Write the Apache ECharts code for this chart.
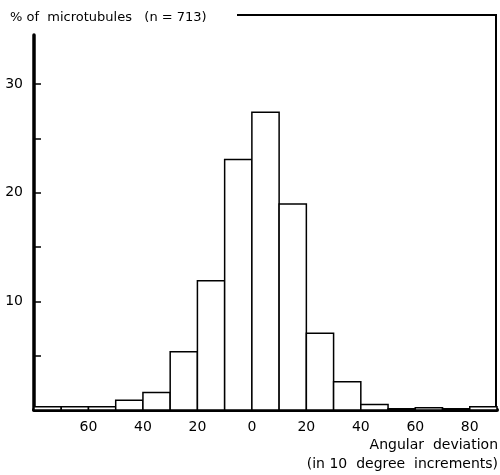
<!DOCTYPE html>
<html>
<head>
<meta charset="utf-8">
<script src="https://cdn.jsdelivr.net/npm/echarts@6/dist/echarts.min.js"></script>
<style>
  html, body { margin: 0; padding: 0; background: #fff; }
  #chart { width: 500px; height: 475px; }
</style>
</head>
<body>
<div id="chart"></div>
<script>
// bins of 10 degrees, start of each bin
var binStart = [-80, -70, -60, -50, -40, -30, -20, -10, 0, 10, 20, 30, 40, 50, 60, 70, 80];
// % of microtubules in each bin
var pct = [0.3, 0.3, 0.3, 0.9, 1.6, 5.35, 11.9, 23.05, 27.4, 18.95, 7.05, 2.6, 0.5, 0.1, 0.2, 0.1, 0.3];
var xLabels = [-60, -40, -20, 0, 20, 40, 60, 80];
var yTicks = [5, 10, 15, 20, 25, 30];
var yLabels = [10, 20, 30];

var binWidth = 10;
var data = [];
for (var i = 0; i < binStart.length; i++) {
    data.push([binStart[i], binStart[i] + binWidth, pct[i]]);
}

var font = 'DejaVu Sans';
var chart = echarts.init(document.getElementById('chart'));
var option = {
    backgroundColor: '#fff',
    animation: false,
    title: {
        text: '% of  microtubules   (n = 713)',
        left: 5,
        top: 6,
        textStyle: { fontFamily: font, fontSize: 13, fontWeight: 'normal', color: '#000' }
    },
    grid: { left: 34, right: 3, top: 35, bottom: 65 },
    xAxis: {
        type: 'value',
        min: -80,
        max: 90,
        interval: 20,
        splitLine: { show: false },
        axisTick: { show: false },
        axisLine: { onZero: false, lineStyle: { color: '#000', width: 4 } },
        axisLabel: {
            customValues: xLabels,
            margin: 10,
            color: '#000',
            fontFamily: font,
            fontSize: 14,
            formatter: function (v) { return Math.abs(v); }
        }
    },
    yAxis: {
        type: 'value',
        min: 0,
        max: 34.5,
        interval: 5,
        splitLine: { show: false },
        axisLine: { show: true, onZero: false, lineStyle: { color: '#000', width: 3.5 } },
        axisTick: {
            show: true,
            inside: true,
            length: 7,
            customValues: yTicks,
            lineStyle: { color: '#000', width: 1.5 }
        },
        axisLabel: {
            customValues: yLabels,
            margin: 11,
            color: '#000',
            fontFamily: font,
            fontSize: 14
        }
    },
    graphic: [
        // frame: top and right edge
        {
            type: 'polyline',
            shape: { points: [[237, 15], [496, 15], [496, 409]] },
            style: { stroke: '#000', lineWidth: 2, fill: null }
        },
        {
            type: 'text',
            right: 2,
            top: 438,
            style: { text: 'Angular  deviation', fontFamily: font, fontSize: 14, fill: '#000' }
        },
        {
            type: 'text',
            right: 2,
            top: 457,
            style: { text: '(in 10  degree  increments)', fontFamily: font, fontSize: 14, fill: '#000' }
        }
    ],
    series: [{
        type: 'custom',
        data: data,
        encode: { x: [0, 1], y: 2 },
        renderItem: function (params, api) {
            var p0 = api.coord([api.value(0), 0]);
            var p1 = api.coord([api.value(1), api.value(2)]);
            return {
                type: 'rect',
                shape: { x: p0[0], y: p1[1], width: p1[0] - p0[0], height: p0[1] - p1[1] },
                style: { fill: '#fff', stroke: '#000', lineWidth: 1.5 }
            };
        }
    }]
};
chart.setOption(option);
</script>
</body>
</html>
